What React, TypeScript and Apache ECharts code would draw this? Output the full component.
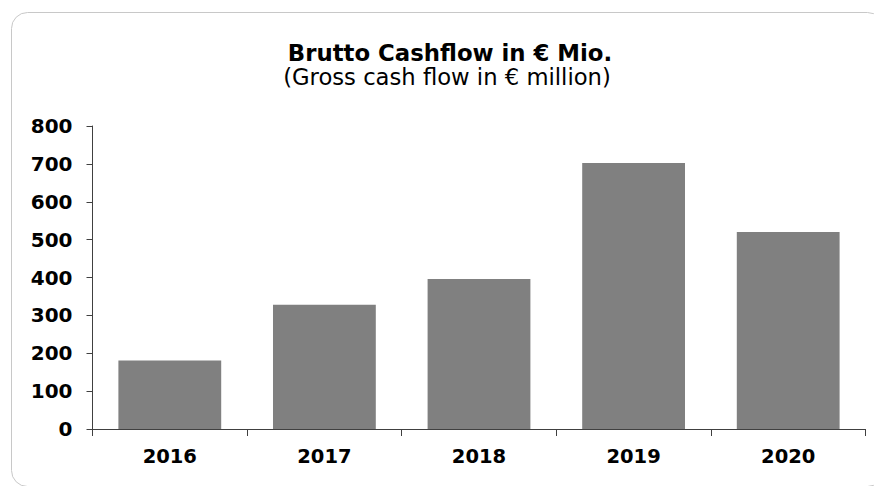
import React, { useEffect, useRef } from "react";
import * as echarts from "echarts";

const categories = ["2016", "2017", "2018", "2019", "2020"];
const cashflow = [181, 328, 396, 702, 520];
const titleText = "Brutto Cashflow in € Mio.";
const subtitleText = "(Gross cash flow in € million)";

export default function App() {
  const ref = useRef<HTMLDivElement>(null);
  useEffect(() => {
    if (!ref.current) return;
    const chart = echarts.init(ref.current, null, { renderer: "svg" });
    chart.setOption({
      animation: false,
      backgroundColor: "#ffffff",
      graphic: [
        {
          type: "rect",
          shape: { x: 11.5, y: 12.5, width: 872, height: 474, r: 16 },
          style: { fill: "none", stroke: "#c8c8c8", lineWidth: 1 },
          silent: true,
          z: -10,
        },
        {
          type: "text",
          x: 450,
          y: 53,
          style: {
            text: titleText,
            font: "bold 22.8px 'DejaVu Sans'",
            fill: "#000",
            align: "center",
            verticalAlign: "middle",
          },
        },
        {
          type: "text",
          x: 447,
          y: 77,
          style: {
            text: subtitleText,
            font: "22.7px 'DejaVu Sans'",
            fill: "#000",
            align: "center",
            verticalAlign: "middle",
          },
        },
      ],
      grid: { left: 92.5, right: 8.5, top: 126, bottom: 57, containLabel: false },
      xAxis: {
        type: "category",
        data: categories,
        axisLine: { show: true, lineStyle: { color: "#404040", width: 1 } },
        axisTick: { show: true, length: 7, alignWithLabel: false, lineStyle: { color: "#404040" } },
        axisLabel: {
          margin: 17,
          color: "#000",
          fontFamily: "DejaVu Sans",
          fontWeight: "bold",
          fontSize: 19.5,
        },
      },
      yAxis: {
        type: "value",
        min: 0,
        max: 800,
        interval: 100,
        splitLine: { show: false },
        axisLine: { show: true, lineStyle: { color: "#404040", width: 1 } },
        axisTick: { show: true, length: 6, lineStyle: { color: "#404040" } },
        axisLabel: {
          margin: 20,
          color: "#000",
          fontFamily: "DejaVu Sans",
          fontWeight: "bold",
          fontSize: 20,
        },
      },
      series: [
        {
          type: "bar",
          data: cashflow,
          barCategoryGap: "33.5%",
          itemStyle: { color: "#808080" },
        },
      ],
    });
    return () => chart.dispose();
  }, []);
  return <div ref={ref} style={{ width: 874, height: 486, position: "fixed", left: 0, top: 0 }} />;
}
